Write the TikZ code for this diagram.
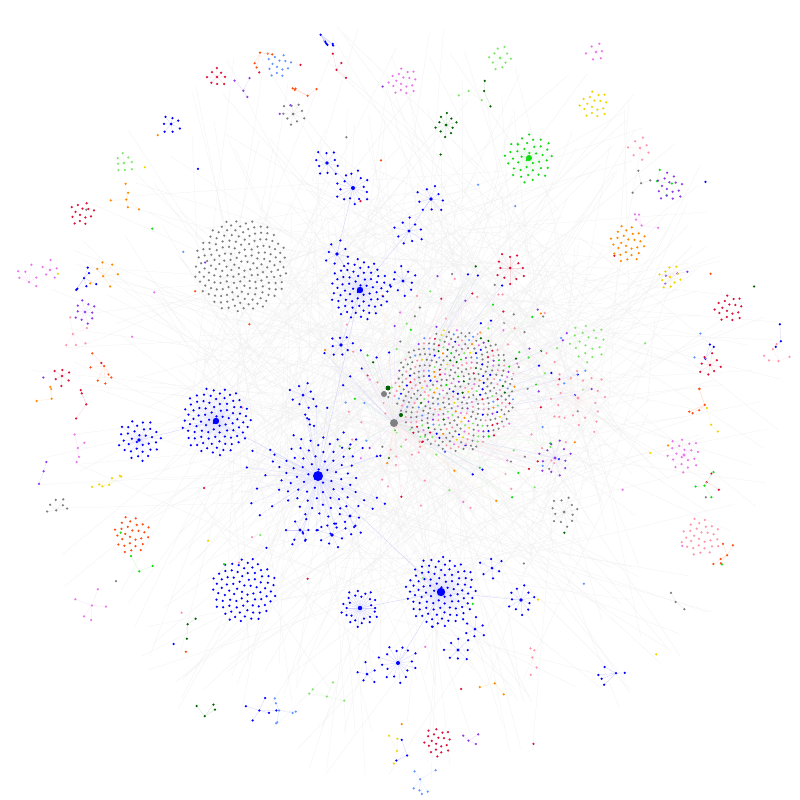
\documentclass[tikz,border=0pt]{standalone}
\usetikzlibrary{calc}
\definecolor{cblue}{RGB}{0,0,255}
\definecolor{cgray}{RGB}{128,128,128}
\definecolor{cgreen}{RGB}{20,220,20}
\definecolor{clgreen}{RGB}{130,230,110}
\definecolor{cdgreen}{RGB}{0,100,0}
\definecolor{cred}{RGB}{220,20,60}
\definecolor{cpink}{RGB}{255,150,170}
\definecolor{corange}{RGB}{255,140,0}
\definecolor{cored}{RGB}{255,80,20}
\definecolor{cviolet}{RGB}{235,120,235}
\definecolor{cpurple}{RGB}{140,60,230}
\definecolor{cyellow}{RGB}{240,215,0}
\definecolor{clblue}{RGB}{100,150,255}
\tikzset{
  edg/.style={line width=0.3pt},
  bgedge/.style={line width=0.25pt,draw=black!6},
}
\newcommand\dotr{1.25}
% golden-angle helper: sets \aa for index \i
\newcommand\goldang{\pgfmathsetmacro\aa{360*(\i*0.381966-floor(\i*0.381966))}}
% disk of dots, no edges
\newcommand\mkdisk[5]{%
 \foreach \i in {1,...,#4}{%
  \goldang
  \pgfmathsetmacro\rr{#3*sqrt((\i-0.4)/#4)}%
  \fill[#5] (#1,#2) ++(\aa:\rr) circle (\dotr);}}
% disk of dots with edges to a hub
\newcommand\mkstar[6]{%
 \foreach \i in {1,...,#4}{%
  \goldang
  \pgfmathsetmacro\rr{#3*sqrt((\i-0.4)/#4)}%
  \draw[edg,draw=#5!13] (#1,#2) -- ++(\aa:\rr);}%
 \foreach \i in {1,...,#4}{%
  \goldang
  \pgfmathsetmacro\rr{#3*sqrt((\i-0.4)/#4)}%
  \fill[#5] (#1,#2) ++(\aa:\rr) circle (\dotr);}%
 \fill[#5] (#1,#2) circle (#6);}
% spray: evenly spread leaves round a hub
\newcommand\mkspray[6]{%
 \foreach \i in {1,...,#4}{%
  \pgfmathsetmacro\aa{\i*360/#4+17*#1}%
  \pgfmathsetmacro\rr{#3*(0.6+0.4*mod(\i*7,5)/4)}%
  \draw[edg,draw=#5!18] (#1,#2) -- ++(\aa:\rr);
  \fill[#5] (#1,#2) ++(\aa:\rr) circle (\dotr);}%
 \fill[#5] (#1,#2) circle (#6);}
\begin{document}
\begin{tikzpicture}[x=1pt,y=-1pt]
\useasboundingbox[fill=white] (0,0) rectangle (800,800);
\pgfmathsetseed{11}
% faint background web
\foreach \k in {1,...,560}{%
 \pgfmathsetmacro\aA{rnd*360}\pgfmathsetmacro\rA{385*sqrt(rnd)}%
 \pgfmathsetmacro\aB{rnd*360}\pgfmathsetmacro\rB{240*sqrt(rnd)}%
 \pgfmathsetmacro\xA{400+\rA*cos(\aA)}\pgfmathsetmacro\yA{400+\rA*sin(\aA)}%
 \pgfmathsetmacro\xB{410+\rB*cos(\aB)}\pgfmathsetmacro\yB{390+\rB*sin(\aB)}%
 \draw[bgedge] (\xA,\yA) -- (\xB,\yB);}
% peripheral small sprays
\foreach \k in {1,...,46}{%
 \pgfmathsetmacro\ang{rnd*360}\pgfmathsetmacro\rad{285+rnd*105}%
 \pgfmathsetmacro\cx{400+\rad*cos(\ang)}\pgfmathsetmacro\cy{400+\rad*sin(\ang)}%
 \pgfmathsetmacro\nn{int(2+rnd*5)}%
 \pgfmathparse{{"cblue","cred","cpink","cgreen","clgreen","corange","cviolet","cpurple","cyellow","clblue","cgray","cdgreen","cored"}[floor(rnd*12.99)]}\let\cc\pgfmathresult
 \foreach \j in {1,...,\nn}{%
  \pgfmathsetmacro\aj{rnd*360}\pgfmathsetmacro\rj{7+rnd*11}%
  \draw[edg,draw=\cc!20] (\cx,\cy) -- ++(\aj:\rj);
  \fill[\cc] (\cx,\cy) ++(\aj:\rj) circle (\dotr);}
 \fill[\cc] (\cx,\cy) circle (\dotr);}
% scattered single dots
\foreach \k in {1,...,70}{%
 \pgfmathsetmacro\ang{rnd*360}\pgfmathsetmacro\rad{150+rnd*240}%
 \pgfmathsetmacro\cx{400+\rad*cos(\ang)}\pgfmathsetmacro\cy{400+\rad*sin(\ang)}%
 \pgfmathparse{{"cblue","cred","cpink","cgreen","clgreen","corange","cviolet","cpurple","cyellow","clblue","cgray","cdgreen","cored"}[floor(rnd*12.99)]}\let\cc\pgfmathresult
 \fill[\cc] (\cx,\cy) circle (\dotr);}
% halo of coloured dots round the mixed cluster
\foreach \k in {1,...,160}{%
 \pgfmathsetmacro\ang{rnd*360}\pgfmathsetmacro\rad{62+rnd*75}%
 \pgfmathsetmacro\cx{455+\rad*cos(\ang)}\pgfmathsetmacro\cy{388+0.9*\rad*sin(\ang)}%
 \pgfmathparse{{"cgray","cgray","cpink","cpink","cpink","cred","cgreen","clgreen","clgreen","cblue","cblue","corange","cviolet","cpurple","cdgreen","clblue"}[floor(rnd*15.99)]}\let\cc\pgfmathresult
 \draw[edg,draw=\cc!14] (394,423) -- (\cx,\cy);
 \fill[\cc] (\cx,\cy) circle (\dotr);}
% mixed cluster
\foreach \i in {1,...,430}{%
 \goldang
 \pgfmathsetmacro\rr{61*sqrt((\i-0.4)/430)}%
 \pgfmathparse{{"cgray","cgray","cgray","cgray","cgray","cgray","cgray","cgray","cgray","cgray","cgray","cgray","cpink","cpink","clgreen","cblue","cred","cgreen","cviolet","corange","cdgreen","clblue","cpurple","cpink","cyellow"}[floor(rnd*24.99)]}\let\cc\pgfmathresult
 \fill[\cc] (455,390) ++(\aa:\rr) circle (1.2);}
\fill[cgray] (394,423) circle (4);
\fill[cgray] (384,394) circle (3);
\fill[cdgreen] (388,388) circle (2.5);
\fill[cdgreen] (401,415) circle (2);
% gray disk
\mkdisk{241}{266}{47}{175}{cgray}
% blue clusters
\draw[edg,draw=cblue!20] (318,476) -- (216,421) -- (139,440);
\draw[edg,draw=cblue!20] (318,476) -- (360,290);
\draw[edg,draw=cblue!20] (318,476) -- (441,592);
\draw[edg,draw=cblue!20] (441,592) -- (360,608);
\draw[edg,draw=cblue!20] (441,592) -- (398,663);
\draw[edg,draw=cblue!20] (441,592) -- (521,600);
\draw[edg,draw=cblue!20] (360,290) -- (409,231) -- (431,199);
\draw[edg,draw=cblue!20] (360,290) -- (337,254) -- (353,188) -- (327,163);
\draw[edg,draw=cblue!20] (360,290) -- (403,281);
\draw[edg,draw=cblue!20] (360,290) -- (341,345);
\foreach \k in {1,...,40}{%
 \pgfmathsetmacro\ang{rnd*360}\pgfmathsetmacro\rad{45+rnd*28}%
 \pgfmathsetmacro\cx{318+\rad*cos(\ang)}\pgfmathsetmacro\cy{476+\rad*sin(\ang)}%
 \draw[edg,draw=cblue!13] (318,476) -- (\cx,\cy);
 \fill[cblue] (\cx,\cy) circle (\dotr);}
\mkstar{318}{476}{42}{66}{cblue}{5}
\mkstar{216}{421}{35}{90}{cblue}{3.2}
\mkstar{139}{440}{22}{34}{cblue}{1.8}
\mkstar{441}{592}{36}{96}{cblue}{4.2}
\mkstar{360}{290}{31}{70}{cblue}{3.2}
\mkdisk{244}{590}{33}{82}{cblue}
\fill[cgreen] (224,564) circle (\dotr);
\mkspray{332}{535}{15}{8}{cblue}{1.8}
\mkspray{350}{516}{13}{6}{cblue}{1.6}
\mkspray{300}{530}{14}{6}{cblue}{1.6}
\mkspray{360}{608}{19}{26}{cblue}{2.2}
\mkspray{398}{663}{20}{16}{cblue}{2}
\mkspray{367}{674}{12}{5}{cblue}{1.5}
\mkspray{458}{650}{14}{8}{cblue}{1.6}
\mkspray{475}{629}{12}{6}{cblue}{1.5}
\mkspray{492}{568}{13}{6}{cblue}{1.5}
\mkspray{521}{600}{15}{11}{cblue}{1.8}
\mkspray{327}{163}{14}{10}{cblue}{1.8}
\mkspray{353}{188}{18}{16}{cblue}{2}
\mkspray{431}{199}{15}{9}{cblue}{1.8}
\mkspray{409}{231}{15}{9}{cblue}{1.6}
\mkspray{337}{254}{14}{8}{cblue}{1.8}
\mkspray{403}{281}{15}{10}{cblue}{1.6}
\mkspray{341}{345}{12}{8}{cblue}{1.8}
\mkspray{171}{124}{10}{7}{cblue}{1.5}
\mkspray{303}{395}{14}{8}{cblue}{1.5}
% other coloured clusters
\mkstar{529}{158}{25}{40}{cgreen}{3}
\mkdisk{628}{244}{19}{28}{corange}
\mkdisk{132}{535}{19}{28}{cored}
\mkdisk{701}{537}{20}{30}{cpink}
\mkstar{684}{455}{18}{20}{cviolet}{1.6}
\mkdisk{729}{309}{15}{18}{cred}
\mkdisk{82}{213}{13}{14}{cred}
\mkdisk{594}{105}{15}{18}{cyellow}
\mkdisk{403}{82}{15}{18}{cviolet}
\mkdisk{279}{65}{13}{14}{clblue}
\mkspray{500}{58}{12}{10}{clgreen}{1.5}
\mkspray{446}{125}{12}{10}{cdgreen}{1.5}
\mkspray{293}{114}{12}{9}{cgray}{1.5}
\mkdisk{669}{187}{15}{16}{cpurple}
\mkdisk{438}{742}{15}{20}{cred}
\mkspray{564}{512}{15}{12}{cgray}{1.5}
\mkspray{578}{398}{30}{20}{cpink}{1.6}
\mkdisk{588}{343}{20}{20}{clgreen}
\mkspray{510}{268}{16}{12}{cred}{1.5}
\mkspray{555}{458}{18}{12}{cpurple}{1.6}
\mkspray{124}{163}{10}{8}{clgreen}{1.4}
\mkspray{217}{77}{10}{8}{cred}{1.4}
\mkspray{670}{277}{12}{10}{cyellow}{1.4}
\mkspray{85}{312}{12}{10}{cpurple}{1.4}
\mkspray{710}{365}{12}{8}{cred}{1.4}
\mkspray{596}{52}{10}{6}{cviolet}{1.4}
\mkspray{640}{148}{12}{7}{cpink}{1.4}
\mkspray{50}{270}{10}{5}{cviolet}{1.4}
\mkspray{62}{376}{10}{6}{cred}{1.4}
\end{tikzpicture}
\end{document}
